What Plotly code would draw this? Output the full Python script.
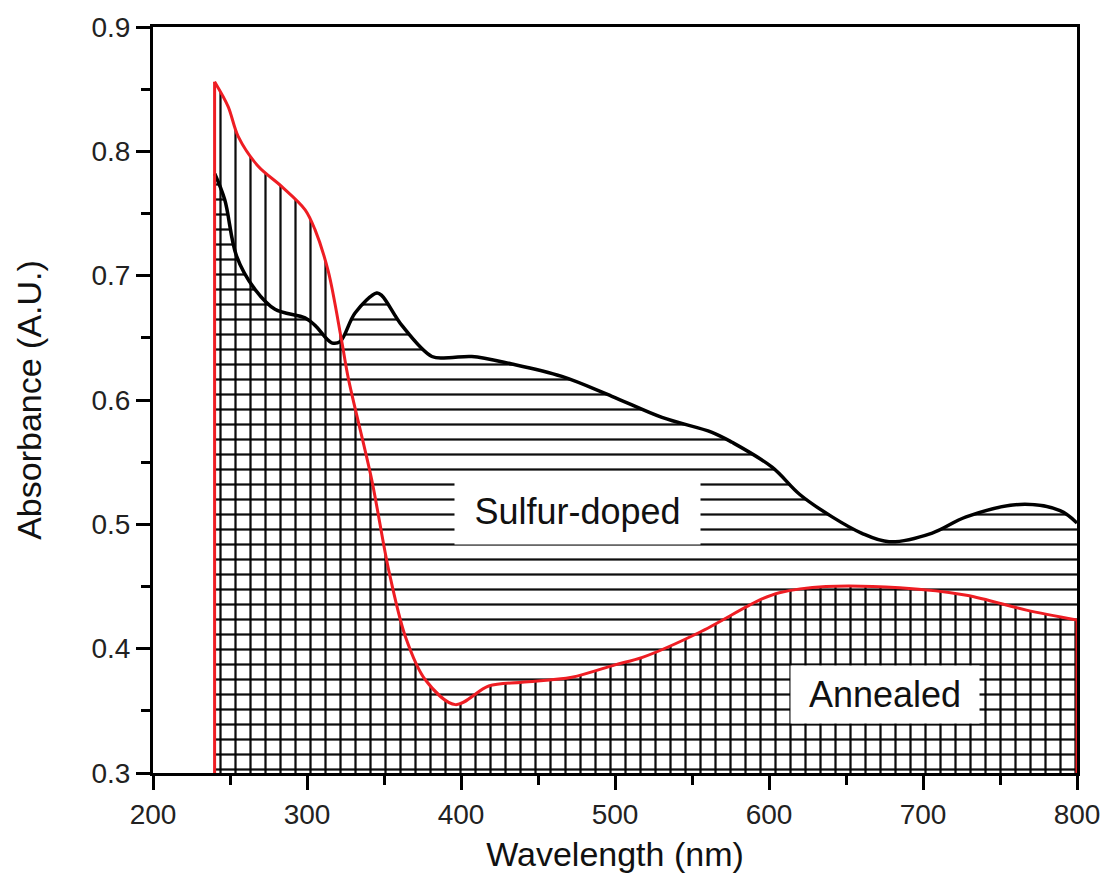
import plotly.graph_objects as go

# Sulfur-doped (black) spectrum
wl_s = [240.1, 246.6, 254.2, 266.2, 279.2, 298.7, 305.2, 316.0, 321.5, 331.2, 345.3, 348.6,
        361.6, 381.1, 392.0, 407.0, 433.0, 465.5, 498.0, 530.5, 563.0, 576.0, 602.0, 620.0,
        641.0, 660.0, 678.0, 706.0, 728.0, 763.0, 789.0, 800.0]
abs_s = [0.782, 0.761, 0.716, 0.689, 0.673, 0.666, 0.660, 0.646, 0.647, 0.670, 0.686, 0.684,
         0.660, 0.635, 0.634, 0.635, 0.629, 0.619, 0.603, 0.586, 0.574, 0.566, 0.546, 0.524,
         0.506, 0.493, 0.486, 0.493, 0.506, 0.516, 0.511, 0.501]

# Annealed (red) spectrum
wl_a = [240.0, 248.8, 255.3, 268.3, 283.3, 298.8, 305.2, 313.9, 322.3, 326.9, 342.0, 352.9,
        363.8, 376.8, 396.3, 418.0, 439.5, 472.0, 500.0, 517.8, 554.7, 593.7, 606.7, 637.0,
        684.8, 728.2, 767.2, 800.0]
abs_a = [0.856, 0.836, 0.812, 0.788, 0.772, 0.753, 0.737, 0.703, 0.649, 0.617, 0.536, 0.464,
         0.410, 0.375, 0.355, 0.370, 0.373, 0.377, 0.387, 0.393, 0.413, 0.439, 0.445, 0.450,
         0.449, 0.443, 0.431, 0.423]

X_RANGE = [200, 800]
Y_RANGE = [0.3, 0.9]
x_ticks = [200, 300, 400, 500, 600, 700, 800]
y_ticks = [0.3, 0.4, 0.5, 0.6, 0.7, 0.8, 0.9]
labels = ["Sulfur-doped", "Annealed"]

FONT = "Liberation Sans, Arial, sans-serif"
RED = "#ee1d23"

fig = go.Figure()

# Sulfur-doped: horizontal hatch
fig.add_trace(go.Scatter(
    x=wl_s, y=abs_s, mode="lines",
    line=dict(color="black", width=3.5, shape="spline", smoothing=1.0),
    fill="tozeroy", fillcolor="rgba(0,0,0,0)",
    fillpattern=dict(shape="-", size=15, solidity=0.15, fgcolor="black",
                     bgcolor="rgba(0,0,0,0)", fgopacity=0.95),
    showlegend=False, hoverinfo="skip"))

# Annealed: vertical hatch
fig.add_trace(go.Scatter(
    x=wl_a, y=abs_a, mode="lines",
    line=dict(color=RED, width=3, shape="spline", smoothing=0.9),
    fill="tozeroy", fillcolor="rgba(0,0,0,0)",
    fillpattern=dict(shape="|", size=15, solidity=0.15, fgcolor="black",
                     bgcolor="rgba(0,0,0,0)", fgopacity=0.95),
    showlegend=False, hoverinfo="skip"))

# vertical red edges of the annealed area, down to the axis
for xe, ye in ((wl_a[0], abs_a[0]), (wl_a[-1], abs_a[-1])):
    fig.add_trace(go.Scatter(
        x=[xe, xe], y=[Y_RANGE[0], ye], mode="lines",
        line=dict(color=RED, width=3), showlegend=False, hoverinfo="skip"))

fig.add_annotation(x=475.5, y=0.511, xref="x", yref="y", text=labels[0],
                   showarrow=False, bgcolor="white", width=243, height=64,
                   font=dict(family=FONT, size=36, color="#111"))
fig.add_annotation(x=675, y=0.363, xref="x", yref="y", text=labels[1],
                   showarrow=False, bgcolor="white", width=186, height=55,
                   font=dict(family=FONT, size=36, color="#111"))

axis_common = dict(
    showline=True, linewidth=3, linecolor="black", mirror=True,
    ticks="outside", ticklen=14, tickwidth=3, tickcolor="black",
    showgrid=False, zeroline=False, automargin=False,
    tickfont=dict(family=FONT, size=28, color="#222"),
)

fig.update_xaxes(
    range=X_RANGE, tickvals=x_ticks, ticktext=[str(v) for v in x_ticks],
    minor=dict(ticks="outside", ticklen=9, tickwidth=3, tickcolor="black", dtick=50),
    title=dict(text="Wavelength (nm)", font=dict(family=FONT, size=34, color="#111"), standoff=14),
    **axis_common)
fig.update_yaxes(
    range=Y_RANGE, tickvals=y_ticks, ticktext=[f"{v:.1f}" for v in y_ticks],
    minor=dict(ticks="outside", ticklen=9, tickwidth=3, tickcolor="black", dtick=0.05),
    title=dict(text="Absorbance (A.U.)", font=dict(family=FONT, size=34, color="#111"), standoff=40),
    **axis_common)

fig.update_layout(
    width=1102, height=884,
    margin=dict(l=153, r=25, t=27, b=111),
    paper_bgcolor="white", plot_bgcolor="white",
)

fig.write_html("out.html")
